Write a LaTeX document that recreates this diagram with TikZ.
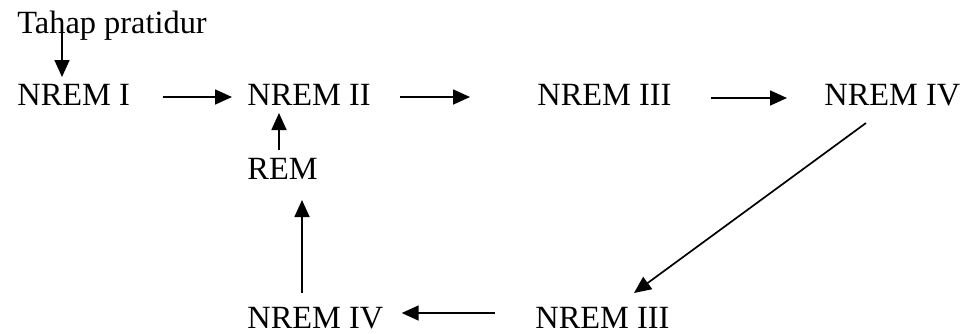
\documentclass[tikz,border=0pt]{standalone}
\usepackage{fontspec}
\setmainfont{Liberation Serif}
\usetikzlibrary{arrows.meta,calc}
\begin{document}
\begin{tikzpicture}[x=0.5pt,y=-0.5pt,
  lbl/.style={anchor=base west,inner sep=0pt,font=\fontsize{16.2}{19}\selectfont},
  arr/.style={-{Triangle[length=8.5pt,width=7.5pt]},line width=0.85pt}]
\useasboundingbox (0,0) rectangle (965,333);
\node[lbl] (tp) at (17,33) {Tahap pratidur};
\node[lbl] (a) at (17,105) {NREM I};
\node[lbl] (b) at (247,105) {NREM II};
\node[lbl] (c) at (537,105) {NREM III};
\node[lbl] (d) at (824,105) {NREM IV};
\node[lbl] (r) at (247,179) {REM};
\node[lbl] (e) at (535,328) {NREM III};
\node[lbl] (f) at (247,328) {NREM IV};
\draw[arr] ($(tp.base west)+(45,0)$) -- ($(a.base west)+(45,-28)$);
\draw[arr] ($(a.base east)+(33,-8)$) -- ($(b.base west)+(-15,-8)$);
\draw[arr] ($(b.base east)+(29,-8)$) -- ($(c.base west)+(-67,-8)$);
\draw[arr] ($(c.base east)+(39,-7)$) -- ($(d.base west)+(-37,-7)$);
\draw[arr] ($(d.base west)+(42,18)$) -- ($(e.base west)+(99,-35)$);
\draw[arr] ($(e.base west)+(-40,-15)$) -- ($(f.base east)+(18,-15)$);
\draw[arr] ($(f.base west)+(55,-35)$) -- ($(r.base west)+(55,21)$);
\draw[arr] ($(r.base west)+(32,-29)$) -- ($(b.base west)+(32,8)$);
\end{tikzpicture}
\end{document}
